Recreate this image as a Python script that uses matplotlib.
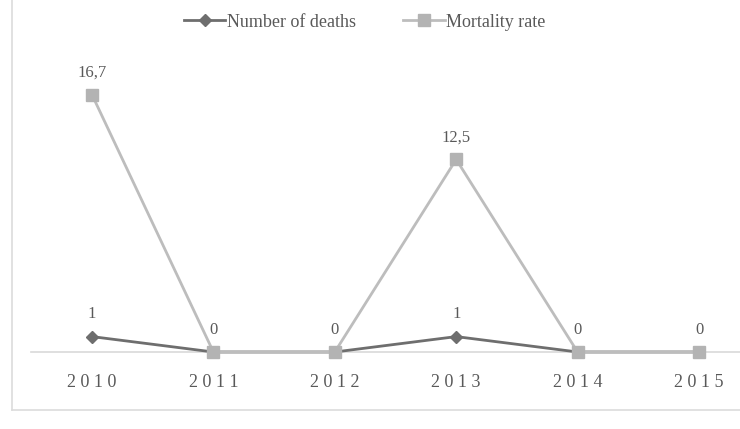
import matplotlib
matplotlib.use("Agg")
import matplotlib.pyplot as plt
from matplotlib.lines import Line2D

years = ["2010", "2011", "2012", "2013", "2014", "2015"]
deaths = [1, 0, 0, 1, 0, 0]
mortality = [16.7, 0, 0, 12.5, 0, 0]

def fmt(v):
    return str(int(v)) if float(v).is_integer() else str(v).replace(".", ",")

plt.rcParams['font.family'] = ['Liberation Serif', 'DejaVu Serif']

fig = plt.figure(figsize=(7.4, 4.29), dpi=100)
ax = fig.add_axes([31.3/740, 77/429, 728.4/740, 285/429])

x = list(range(len(years)))
c_d = "#6e6e6e"
c_m = "#bdbdbd"
ax.plot(x, deaths, color=c_d, lw=2, marker="D", ms=6, mfc=c_d, mec=c_d,
        clip_on=False, zorder=3, label="Number of deaths")
ax.plot(x, mortality, color=c_m, lw=2, marker="s", ms=9, mfc="#b3b3b3", mec="#b3b3b3",
        clip_on=False, zorder=4, label="Mortality rate")

tc = "#595959"
for i in x:
    ax.annotate(fmt(mortality[i]), (i, mortality[i]), xytext=(0, 16), textcoords="offset points",
                ha="center", va="center", fontsize=12, color=tc)
    if deaths[i] != mortality[i]:
        ax.annotate(fmt(deaths[i]), (i, deaths[i]), xytext=(0, 16), textcoords="offset points",
                    ha="center", va="center", fontsize=12, color=tc)

ax.set_xlim(-0.5, 5.5)
ax.set_ylim(0, 18.5)
ax.set_xticks(x)
ax.set_xticklabels([" ".join(y) for y in years], fontsize=13, color=tc)
ax.tick_params(axis="x", length=0, pad=16)
ax.set_yticks([])
for s in ["top", "right", "left"]:
    ax.spines[s].set_visible(False)
ax.spines["bottom"].set_color("#d9d9d9")
ax.spines["bottom"].set_linewidth(1.2)
ax.set_facecolor("none")

# outer frame lines (left and bottom)
fig.add_artist(Line2D([12/740, 12/740], [19/429, 1.0], transform=fig.transFigure, color="#dcdcdc", lw=1.2))
fig.add_artist(Line2D([12/740, 1.0], [19/429, 19/429], transform=fig.transFigure, color="#dcdcdc", lw=1.2))

h_d = Line2D([], [], color=c_d, lw=2, marker="D", ms=6, mfc=c_d, mec=c_d)
h_m = Line2D([], [], color=c_m, lw=2, marker="s", ms=9, mfc="#b3b3b3", mec="#b3b3b3")
fig.legend([h_d, h_m], ["Number of deaths", "Mortality rate"], loc="center", bbox_to_anchor=(0.493, 0.948),
           ncol=2, frameon=False, fontsize=13, handlelength=2.3, handletextpad=0.1, columnspacing=2.6,
           labelcolor=tc)

fig.savefig("out.png", dpi=100)
